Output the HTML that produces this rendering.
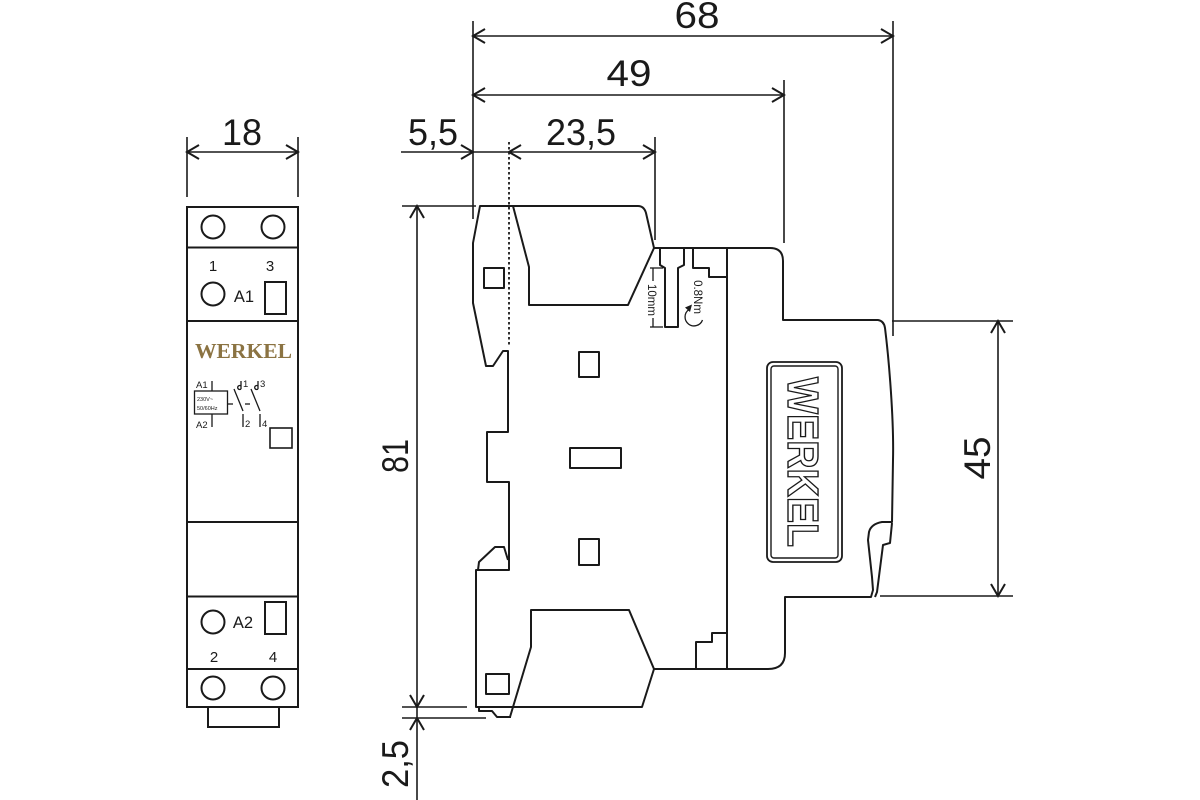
<!DOCTYPE html>
<html>
<head>
<meta charset="utf-8">
<style>
  html,body{margin:0;padding:0;background:#fff;}
  svg{display:block;}
  text{font-family:"Liberation Sans",Arial,sans-serif;fill:#1a1a1a;}
</style>
</head>
<body>
<svg width="1200" height="800" viewBox="0 0 1200 800" xmlns="http://www.w3.org/2000/svg">
  <rect width="1200" height="800" fill="#fff"/>

  <!-- ================= FRONT VIEW ================= -->
  <g fill="none" stroke="#1a1a1a" stroke-width="2">
    <rect x="187" y="207" width="111" height="500"/>
    <line x1="187" y1="247.5" x2="298" y2="247.5"/>
    <line x1="187" y1="321" x2="298" y2="321"/>
    <line x1="187" y1="522" x2="298" y2="522"/>
    <line x1="187" y1="596.5" x2="298" y2="596.5"/>
    <line x1="187" y1="669" x2="298" y2="669"/>
    <polyline points="208,707 208,727 279,727 279,707"/>
    <circle cx="213" cy="227" r="11.5"/>
    <circle cx="273" cy="227" r="11.5"/>
    <circle cx="213" cy="294" r="11.5"/>
    <rect x="265" y="282" width="21" height="32"/>
    <circle cx="213" cy="622" r="11.5"/>
    <rect x="265" y="602" width="21" height="32"/>
    <circle cx="213" cy="688" r="11.5"/>
    <circle cx="273" cy="688" r="11.5"/>
    <rect x="270" y="428" width="22" height="20" stroke-width="1.6"/>
  </g>
  <text x="213" y="271" font-size="15" text-anchor="middle">1</text>
  <text x="270" y="271" font-size="15" text-anchor="middle">3</text>
  <text x="244" y="302" font-size="16.5" text-anchor="middle">A1</text>
  <text x="243" y="628" font-size="16.5" text-anchor="middle">A2</text>
  <text x="214" y="662" font-size="15" text-anchor="middle">2</text>
  <text x="273" y="662" font-size="15" text-anchor="middle">4</text>

  <text x="243.5" y="358" font-size="21" font-weight="bold" text-anchor="middle" textLength="97" lengthAdjust="spacingAndGlyphs" style="font-family:'Liberation Serif',serif;fill:#8B7342;">WERKEL</text>

  <!-- schematic -->
  <g fill="none" stroke="#1a1a1a" stroke-width="1.3">
    <line x1="212" y1="381" x2="212" y2="391"/>
    <rect x="194.5" y="391" width="33" height="23"/>
    <line x1="212" y1="414" x2="212" y2="427"/>
    <line x1="228" y1="404" x2="233" y2="404"/>
    <line x1="245" y1="404" x2="250" y2="404"/>
    <!-- contact 1 -->
    <path d="M241,381 V389 M241,389 a2,2 0 1 1 0,-3"/>
    <line x1="234" y1="389" x2="243" y2="411"/>
    <line x1="243" y1="414" x2="243" y2="427"/>
    <!-- contact 2 -->
    <path d="M258,381 V389 M258,389 a2,2 0 1 1 0,-3"/>
    <line x1="251" y1="389" x2="260" y2="411"/>
    <line x1="260" y1="414" x2="260" y2="427"/>
  </g>
  <text x="196" y="388" font-size="9.5">A1</text>
  <text x="196" y="428" font-size="9.5">A2</text>
  <text x="197" y="401" font-size="5.5">230V~</text>
  <text x="197" y="410" font-size="5.5">50/60Hz</text>
  <text x="243" y="387" font-size="9.5">1</text>
  <text x="260" y="387" font-size="9.5">3</text>
  <text x="245" y="427" font-size="9.5">2</text>
  <text x="262" y="427" font-size="9.5">4</text>

  <!-- dimension 18 -->
  <g fill="none" stroke="#1a1a1a" stroke-width="1.6">
    <line x1="187" y1="137" x2="187" y2="197"/>
    <line x1="298" y1="137" x2="298" y2="197"/>
    <line x1="187" y1="152" x2="298" y2="152"/>
    <path d="M199,145 L187,152 L199,159" stroke-width="2"/>
    <path d="M286,145 L298,152 L286,159" stroke-width="2"/>
  </g>
  <text x="242" y="145" font-size="37" text-anchor="middle" textLength="40" lengthAdjust="spacingAndGlyphs">18</text>

  <!-- ================= SIDE VIEW ================= -->
  <g fill="none" stroke="#1a1a1a" stroke-width="2" stroke-linejoin="round">
    <!-- outer contour -->
    <path d="M480,206 L638,206 Q644,206 646,213 L654,248 L770,248 Q783,248 783,261 L783,320 L878,320 Q884,321 885,328 C889,360 894,420 893,460 L892,522 L882,522 Q871,524 869,532 L868,540 L872,577 L873,590 L871,597 L785,597 L785,653 Q785,669 768,669 L654,669 L642,707 L476,707 L476,570 L509,570 L509,482 L487,482 L487,432 L508,432 L508,351 L503,351 L493,366 L486,366 L473,303 L473,243 Z"/>
    <!-- DIN clip right detail -->
    <polyline points="892,523 890,543 883,545 877,592 875,597"/>
    <!-- chamfer lump -->
    <polyline points="478,570 479,562 495,547 504,547 508,560"/>
    <!-- bottom clip -->
    <polyline points="479,707 479,711 492,711 497,717 511,717"/>
    <!-- upper terminal -->
    <polyline points="513,206 529,267 529,305 628,305 654,248"/>
    <!-- lower terminal -->
    <polyline points="510,717 531,647 531,610 629,610 654,669"/>
    <!-- divider -->
    <line x1="727" y1="248" x2="727" y2="669"/>
    <!-- screw slot -->
    <polyline points="660,248 660,265 665,268 665,327 678,327 678,268 684,265 684,248"/>
    <!-- steps -->
    <polyline points="693,248 693,268 709,268 709,277 727,277"/>
    <polyline points="696,669 696,642 712,642 712,633 727,633"/>
    <!-- squares -->
    <rect x="484" y="268" width="20" height="20"/>
    <rect x="579" y="352" width="20" height="25"/>
    <rect x="570" y="448" width="51" height="20"/>
    <rect x="579" y="539" width="20" height="26"/>
    <rect x="486" y="674" width="23" height="20"/>
    <!-- WERKEL box -->
    <rect x="767" y="362" width="75" height="200" rx="6" stroke-width="1.8"/>
    <rect x="771" y="366" width="67" height="192" rx="3" stroke-width="1.4"/>
  </g>
  <text x="788" y="462" font-size="44" font-weight="bold" text-anchor="middle" textLength="170" lengthAdjust="spacingAndGlyphs" transform="rotate(90 788 462)" style="fill:#fff;stroke:#1a1a1a;stroke-width:1.4;">WERKEL</text>

  <!-- dotted line -->
  <line x1="509" y1="142" x2="509" y2="345" stroke="#1a1a1a" stroke-width="1.8" stroke-dasharray="2.5 2.5"/>

  <!-- 10mm & 0.8Nm annotations -->
  <g fill="none" stroke="#1a1a1a" stroke-width="1.3">
    <line x1="653" y1="268" x2="653" y2="281"/>
    <line x1="653" y1="318" x2="653" y2="327"/>
    <line x1="650" y1="268" x2="663" y2="268"/>
    <line x1="650" y1="327" x2="663" y2="327"/>
    <path d="M702.5,320 A9,9 0 1 1 688.8,309.6"/>
  </g>
  <path d="M692,304.5 L685,307.5 L690,312 Z" fill="#1a1a1a"/>
  <text x="648" y="300" font-size="11.5" text-anchor="middle" transform="rotate(90 648 300)">10mm</text>
  <text x="694" y="297" font-size="11.5" text-anchor="middle" transform="rotate(90 694 297)">0.8Nm</text>

  <!-- ================= DIMENSIONS ================= -->
  <g fill="none" stroke="#1a1a1a" stroke-width="1.6">
    <!-- extension lines -->
    <line x1="473" y1="21" x2="473" y2="219"/>
    <line x1="655" y1="137" x2="655" y2="240"/>
    <line x1="784" y1="80" x2="784" y2="243"/>
    <line x1="893" y1="21" x2="893" y2="336"/>
    <line x1="402" y1="206" x2="476" y2="206"/>
    <line x1="402" y1="707" x2="467" y2="707"/>
    <line x1="402" y1="718" x2="486" y2="718"/>
    <line x1="892" y1="321" x2="1013" y2="321"/>
    <line x1="880" y1="596" x2="1013" y2="596"/>
    <!-- 68 -->
    <line x1="473" y1="36" x2="893" y2="36"/>
    <!-- 49 -->
    <line x1="473" y1="95" x2="784" y2="95"/>
    <!-- 5,5 / 23,5 -->
    <line x1="401" y1="152" x2="655" y2="152"/>
    <!-- 81 / 2,5 -->
    <line x1="417" y1="206" x2="417" y2="800"/>
    <!-- 45 -->
    <line x1="998" y1="321" x2="998" y2="596"/>
  </g>
  <g fill="none" stroke="#1a1a1a" stroke-width="2" stroke-linejoin="miter">
    <path d="M485,29 L473,36 L485,43"/>
    <path d="M881,29 L893,36 L881,43"/>
    <path d="M485,88 L473,95 L485,102"/>
    <path d="M772,88 L784,95 L772,102"/>
    <path d="M461,145 L473,152 L461,159"/>
    <path d="M521,145 L509,152 L521,159"/>
    <path d="M643,145 L655,152 L643,159"/>
    <path d="M410,218 L417,206 L424,218"/>
    <path d="M410,695 L417,707 L424,695"/>
    <path d="M410,730 L417,718 L424,730"/>
    <path d="M991,333 L998,321 L1005,333"/>
    <path d="M991,584 L998,596 L1005,584"/>
  </g>

  <text x="697" y="28" font-size="37" text-anchor="middle" textLength="45" lengthAdjust="spacingAndGlyphs">68</text>
  <text x="629" y="86" font-size="37" text-anchor="middle" textLength="45" lengthAdjust="spacingAndGlyphs">49</text>
  <text x="433" y="145" font-size="37" text-anchor="middle" textLength="50" lengthAdjust="spacingAndGlyphs">5,5</text>
  <text x="581" y="145" font-size="37" text-anchor="middle" textLength="70" lengthAdjust="spacingAndGlyphs">23,5</text>
  <text x="408" y="456" font-size="37" text-anchor="middle" textLength="34" lengthAdjust="spacingAndGlyphs" transform="rotate(-90 408 456)">81</text>
  <text x="408" y="764" font-size="37" text-anchor="middle" textLength="48" lengthAdjust="spacingAndGlyphs" transform="rotate(-90 408 764)">2,5</text>
  <text x="990" y="458" font-size="37" text-anchor="middle" textLength="43" lengthAdjust="spacingAndGlyphs" transform="rotate(-90 990 458)">45</text>
</svg>
</body>
</html>
